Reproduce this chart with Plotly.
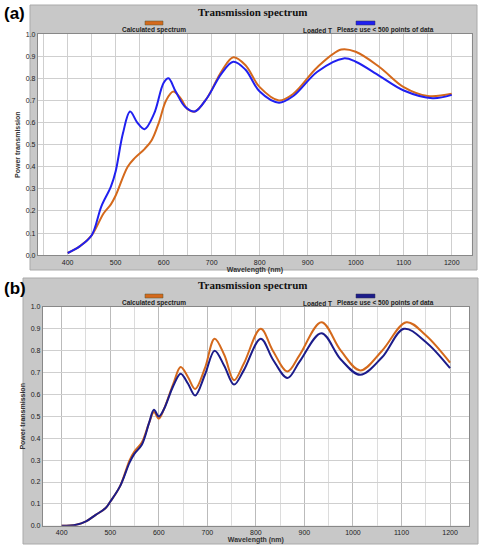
import plotly.graph_objects as go
from plotly.subplots import make_subplots

# panel (a)
a_calc_x = [400, 425, 450, 475, 490, 500, 525, 540, 560, 575, 590, 605, 620, 635, 650, 665, 690, 720, 745, 770, 800, 840, 870, 920, 970, 1000, 1050, 1100, 1150, 1200]
a_calc_y = [0.01, 0.04, 0.09, 0.19, 0.23, 0.27, 0.40, 0.44, 0.48, 0.52, 0.60, 0.70, 0.74, 0.71, 0.66, 0.65, 0.71, 0.83, 0.895, 0.86, 0.76, 0.70, 0.73, 0.85, 0.93, 0.92, 0.85, 0.76, 0.72, 0.73]
a_load_x = [400, 425, 450, 470, 490, 500, 515, 530, 545, 560, 580, 600, 610, 625, 645, 665, 690, 720, 745, 770, 800, 840, 870, 920, 975, 1000, 1050, 1100, 1160, 1200]
a_load_y = [0.01, 0.04, 0.09, 0.22, 0.31, 0.38, 0.55, 0.65, 0.60, 0.57, 0.64, 0.78, 0.80, 0.74, 0.67, 0.65, 0.71, 0.82, 0.875, 0.84, 0.74, 0.69, 0.72, 0.83, 0.89, 0.875, 0.81, 0.745, 0.71, 0.725]

# panel (b)
b_calc_x = [400, 430, 450, 470, 490, 500, 520, 540, 550, 565, 580, 590, 600, 610, 630, 645, 660, 675, 695, 715, 735, 755, 775, 810, 835, 865, 890, 935, 975, 1015, 1060, 1110, 1150, 1200]
b_calc_y = [0.0, 0.005, 0.02, 0.05, 0.08, 0.11, 0.18, 0.30, 0.34, 0.38, 0.47, 0.52, 0.49, 0.53, 0.65, 0.725, 0.68, 0.625, 0.72, 0.855, 0.78, 0.665, 0.74, 0.90, 0.80, 0.705, 0.78, 0.93, 0.80, 0.71, 0.80, 0.93, 0.87, 0.745]
b_load_x = [400, 430, 450, 470, 490, 500, 520, 540, 550, 565, 580, 590, 600, 610, 630, 645, 660, 675, 695, 715, 735, 755, 775, 810, 835, 865, 890, 935, 975, 1015, 1060, 1105, 1150, 1200]
b_load_y = [0.0, 0.005, 0.02, 0.05, 0.08, 0.11, 0.18, 0.29, 0.33, 0.37, 0.47, 0.53, 0.50, 0.53, 0.64, 0.695, 0.65, 0.595, 0.69, 0.80, 0.73, 0.645, 0.71, 0.855, 0.76, 0.675, 0.75, 0.88, 0.76, 0.69, 0.77, 0.90, 0.84, 0.72]

orange = "#d4691c"
blue_a = "#2020f0"
blue_b = "#1c1c8a"

fig = make_subplots(rows=2, cols=1)
fig.add_trace(go.Scatter(x=a_calc_x, y=a_calc_y, mode="lines", line=dict(color=orange, width=2, shape="spline")), row=1, col=1)
fig.add_trace(go.Scatter(x=a_load_x, y=a_load_y, mode="lines", line=dict(color=blue_a, width=2, shape="spline")), row=1, col=1)
fig.add_trace(go.Scatter(x=b_calc_x, y=b_calc_y, mode="lines", line=dict(color=orange, width=2, shape="spline")), row=2, col=1)
fig.add_trace(go.Scatter(x=b_load_x, y=b_load_y, mode="lines", line=dict(color=blue_b, width=2, shape="spline")), row=2, col=1)

tick = dict(family="Arial", size=7, color="#222")
panels = [(1, [0.078, 0.971], [0.536, 0.938], [338, 1242], "#cfcfcf"),
          (2, [0.088, 0.965], [0.044, 0.442], [361, 1239], "#dcdcdc")]
for r, dom_x, dom_y, rng, minor_col in panels:
    fig.update_xaxes(row=r, col=1, domain=dom_x, range=rng, tickvals=list(range(400, 1201, 100)),
                     showgrid=True, gridcolor="#cfcfcf", gridwidth=1, zeroline=False, automargin=False,
                     minor=dict(tickvals=list(range(350, 1250, 50)), showgrid=True, gridcolor=minor_col),
                     tickfont=tick, ticks="", showline=True, linecolor="#888", mirror=True,
                     title=dict(text="<b>Wavelength (nm)</b>", font=dict(family="Arial", size=7, color="#333"), standoff=1))
    fig.update_yaxes(row=r, col=1, domain=dom_y, range=[0, 1], tickvals=[i / 10 for i in range(11)],
                     tickformat=".1f", showgrid=True, gridcolor="#cfcfcf", zeroline=False, automargin=False,
                     tickfont=tick, ticks="", showline=True, linecolor="#888", mirror=True,
                     title=dict(text="<b>Power transmission</b>", font=dict(family="Arial", size=7, color="#333"), standoff=4))
# panel (b) has darker major lines at 500, 700, 900
fig.update_xaxes(row=2, col=1, tickvals=list(range(400, 1201, 100)), gridcolor="#bbbbbb")

shapes = [
    dict(type="rect", xref="paper", yref="paper", x0=30/486, x1=477/486, y0=1-270/550, y1=1-5/550,
         fillcolor="#c8c8c8", line=dict(color="#aaa", width=1), layer="below"),
    dict(type="rect", xref="paper", yref="paper", x0=23/486, x1=478/486, y0=1-544/550, y1=1-278/550,
         fillcolor="#c8c8c8", line=dict(color="#aaa", width=1), layer="below"),
]
for _, dom_x, dom_y, _, _ in panels:
    shapes.append(dict(type="rect", xref="paper", yref="paper", x0=dom_x[0], x1=dom_x[1], y0=dom_y[0], y1=dom_y[1],
                       fillcolor="white", line=dict(width=0), layer="below"))

small = dict(family="Arial", size=6.5, color="#222")
annotations = []
for top, blue in [(5, blue_a), (278, blue_b)]:
    shapes.append(dict(type="rect", xref="paper", yref="paper", x0=145/486, x1=163/486,
                       y0=1-(top+20)/550, y1=1-(top+16)/550, fillcolor=orange, line=dict(color="#553", width=0.5)))
    shapes.append(dict(type="rect", xref="paper", yref="paper", x0=356/486, x1=375/486,
                       y0=1-(top+20)/550, y1=1-(top+16)/550, fillcolor=blue, line=dict(color="#335", width=0.5)))
    common = dict(xref="paper", yref="paper", showarrow=False, xanchor="center", yanchor="middle")
    annotations += [
        dict(text="<b>Transmission spectrum</b>", x=0.52, y=1-(top+7)/550,
             font=dict(family="Liberation Serif", size=11, color="#111"), **common),
        dict(text="<b>Calculated spectrum</b>", x=154/486, y=1-(top+25)/550, font=small, **common),
        dict(text="<b>Loaded T</b>", x=317/486, y=1-(top+25)/550, font=small, **common),
        dict(text="<b>Please use < 500 points of data</b>", x=385/486, y=1-(top+25)/550, font=small, **common),
    ]
annotations += [
    dict(text="<b>(a)</b>", x=2/486, y=1-2/550, xref="paper", yref="paper", xanchor="left", yanchor="top",
         showarrow=False, font=dict(family="Arial", size=17, color="#000")),
    dict(text="<b>(b)</b>", x=2/486, y=1-277/550, xref="paper", yref="paper", xanchor="left", yanchor="top",
         showarrow=False, font=dict(family="Arial", size=17, color="#000")),
]

fig.update_layout(width=486, height=550, margin=dict(l=0, r=0, t=0, b=0), showlegend=False,
                  paper_bgcolor="white", plot_bgcolor="white", shapes=shapes, annotations=annotations)
fig.write_html("out.html", config={"displayModeBar": False}, post_script="document.body.style.margin='0';")
